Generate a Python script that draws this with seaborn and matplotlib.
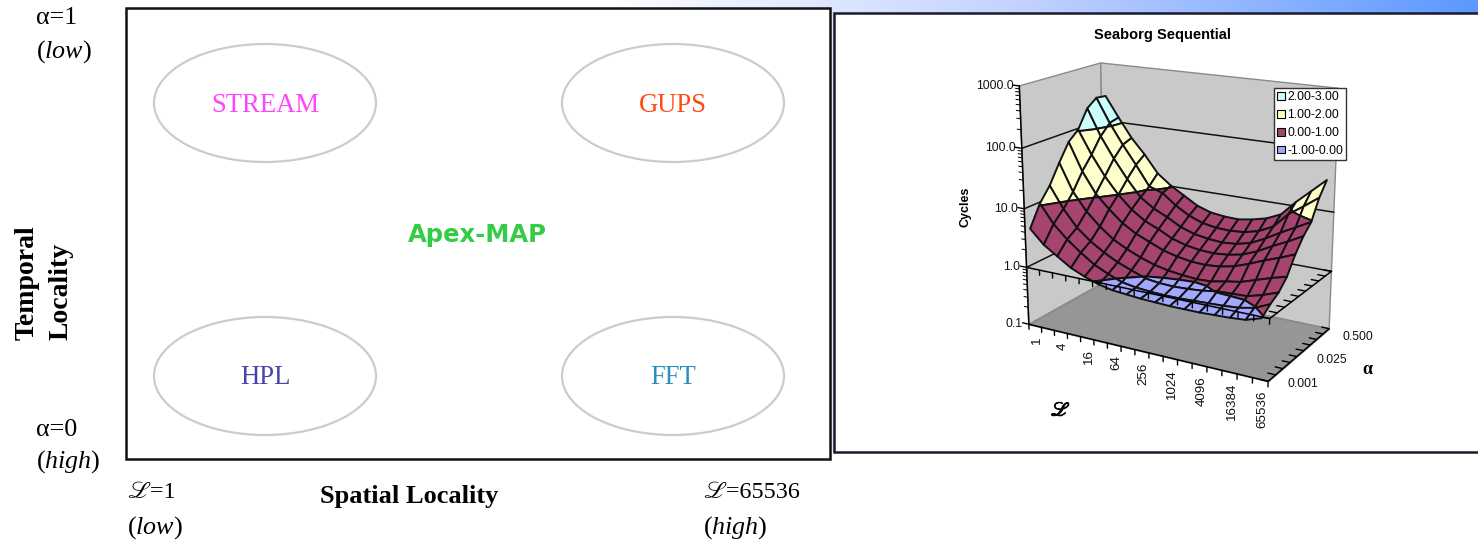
import numpy as np
import matplotlib
matplotlib.use("Agg")
import matplotlib.pyplot as plt
import matplotlib.patheffects as pe
from matplotlib.patches import Ellipse, Patch, Rectangle
from mpl_toolkits.mplot3d import proj3d
from mpl_toolkits.mplot3d.art3d import Poly3DCollection
import seaborn as sns

# spatial locality categories (2^i) and temporal locality categories
L_labels = ["1", "2", "4", "8", "16", "32", "64", "128", "256", "512", "1024",
            "2048", "4096", "8192", "16384", "32768", "65536"]
alpha_labels = ["0.001", "0.0025", "0.005", "0.01", "0.025", "0.05", "0.1", "0.25", "0.500"]

# log10(cycles), one list per alpha
log_cycles_a0 = [.68, .45, .30, .15, .05, -.03, -.08, -.10, -.12, -.13, -.14, -.14, -.14, -.13, -.12, -.10, -.02]
log_cycles_a1 = [1.03, .72, .50, .32, .16, .05, -.04, -.08, -.10, -.11, -.11, -.10, -.09, -.08, -.06, -.01, .10]
log_cycles_a2 = [1.26, .90, .62, .43, .28, .16, .07, -.02, -.05, -.06, -.05, -.03, .01, .02, .03, .10, .19]
log_cycles_a3 = [1.58, 1.12, .82, .60, .42, .30, .20, .12, .07, .04, .02, .03, .08, .12, .20, .28, .35]
log_cycles_a4 = [1.87, 1.40, 1.05, .82, .62, .48, .38, .28, .22, .18, .17, .19, .24, .33, .43, .52, .62]
log_cycles_a5 = [2.02, 1.62, 1.28, 1.00, .78, .62, .52, .40, .33, .29, .28, .30, .35, .45, .58, .70, .83]
log_cycles_a6 = [2.33, 1.88, 1.52, 1.20, .92, .76, .65, .52, .44, .40, .38, .40, .46, .58, .72, .85, .98]
log_cycles_a7 = [2.46, 2.05, 1.70, 1.38, 1.04, .96, .78, .64, .55, .51, .50, .52, .58, .70, .95, 1.12, 1.30]
log_cycles_a8 = [2.44, 2.09, 1.76, 1.50, 1.20, 1.02, .88, .74, .66, .63, .62, .66, .72, .83, 1.08, 1.30, 1.52]

band_labels = ["2.00-3.00", "1.00-2.00", "0.00-1.00", "-1.00-0.00"]
band_edges = [(2, 3), (1, 2), (0, 1), (-1, 0)]
band_colors = ["#CCFFFF", "#FFFFCC", "#A5446F", "#A3A8FF"]

z_ticks = [-1, 0, 1, 2, 3]
z_labels = ["0.1", "1.0", "10.0", "100.0", "1000.0"]


def clip_band(quad, lo, hi):
    # cut one surface cell down to the part inside a colour band
    poly = quad
    for limit, sign in ((lo, 1), (hi, -1)):
        out = []
        for k in range(len(poly)):
            p, q = poly[k], poly[(k + 1) % len(poly)]
            dp, dq = sign * (p[2] - limit), sign * (q[2] - limit)
            if dp >= 0:
                out.append(p)
            if dp * dq < 0:
                out.append(p + (q - p) * dp / (dp - dq))
        poly = out
        if len(poly) < 3:
            return []
    return poly


sns.set_theme(style="white")
plt.rcParams["mathtext.fontset"] = "custom"
plt.rcParams["mathtext.rm"] = "Liberation Serif"
plt.rcParams["mathtext.it"] = "Liberation Serif:italic"

fig = plt.figure(figsize=(14.78, 5.41), dpi=100)

# slide layer, in pixels of the picture
ax = fig.add_axes([0, 0, 1, 1])
strip = sns.blend_palette(["#FFFFFF", "#C0D0FF", "#5C98FF"], as_cmap=True)
ax.imshow(np.linspace(0, 1, 256)[None, :], cmap=strip, extent=(600, 1478, 452, 0), aspect="auto", zorder=0)
ax.set_xlim(0, 1478)
ax.set_ylim(541, 0)
ax.set_axis_off()
ax.add_patch(Rectangle((126, 8), 704, 451, fc="white", ec="#111111", lw=1.8, zorder=1))
ax.add_patch(Rectangle((834, 13), 650, 439, fc="white", ec="#1A1A2A", lw=1.8, zorder=1))

serif = ["Liberation Serif", "STIXGeneral"]
sans = "Liberation Sans"

for x, y, name, color in [(265, 103, "STREAM", "#FF44FF"), (673, 103, "GUPS", "#FF4A10"),
                          (265, 376, "HPL", "#4444AA"), (673, 376, "FFT", "#2A8FBF")]:
    ax.add_patch(Ellipse((x, y), 222, 118, fc="none", ec="#CCCCCC", lw=1.6, zorder=2))
    ax.text(x, y + 2, name, color=color, family=serif, fontsize=19.2, ha="center", va="center", zorder=3)
ax.text(477, 235, "Apex-MAP", color="#33CC44", family="DejaVu Sans", weight="bold", fontsize=17.5,
        ha="center", va="center", zorder=3)

for x, y, s in [(36, 16, "α=1"), (36, 50, "($\\mathit{low}$)"), (36, 428, "α=0"), (36, 460, "($\\mathit{high}$)"),
                (127, 526, "($\\mathit{low}$)"), (703, 526, "($\\mathit{high}$)")]:
    ax.text(x, y + 2, s, family=serif, color="black", fontsize=18.7, ha="left", va="center", zorder=3)
for x, y, s in [(127, 490, "ℒ=1"), (703, 490, "ℒ=65536")]:
    ax.text(x, y + 2, s, family=serif, color="black", fontsize=17.4, ha="left", va="center", zorder=3)
ax.text(27, 283, "Temporal", family=serif, weight="bold", fontsize=20, color="black", rotation=90,
        ha="center", va="center")
ax.text(61, 291, "Locality", family=serif, weight="bold", fontsize=20, color="black", rotation=90,
        ha="center", va="center")
ax.text(409, 497, "Spatial Locality", family=serif, weight="bold", fontsize=19, color="black",
        ha="center", va="center")

ax.text(1162, 35, "Seaborg Sequential", family=sans, weight="bold", fontsize=10.5, color="black",
        ha="center", va="center")
ax.text(966, 207, "Cycles", family=sans, weight="bold", fontsize=9, color="black", rotation=90,
        ha="center", va="center")
ax.text(1060, 411, "ℒ", family=["STIXGeneral", "DejaVu Sans"], fontsize=14, color="black", ha="center", va="center",
        path_effects=[pe.withStroke(linewidth=0.7, foreground="black")])
ax.text(1367, 369, "α", family="Liberation Serif", weight="bold", fontsize=13, color="black", ha="center", va="center")

# the Excel style 3D chart
ax3d = fig.add_axes([952.37 / 1478, 1 - 436.42 / 541, 440 / 1478, 440 / 541], projection="3d")
ax3d.patch.set_visible(False)
ax3d.computed_zorder = False
ax3d.set_axis_off()
ax3d.set_proj_type("persp", focal_length=0.5035)
ax3d.view_init(17.25, -60.18)
ax3d.set_box_aspect((1.1537, 0.605, 1.0528), zoom=0.87892)

n_l = len(L_labels)
n_a = len(alpha_labels)
ax3d.set_xlim(0, n_l)
ax3d.set_ylim(0, n_a)
ax3d.set_zlim(z_ticks[0], z_ticks[-1])

walls = [[(0, 0, -1), (0, n_a, -1), (0, n_a, 3), (0, 0, 3)],
         [(0, n_a, -1), (n_l, n_a, -1), (n_l, n_a, 3), (0, n_a, 3)]]
ax3d.add_collection3d(Poly3DCollection(walls, facecolors="#C9C9C9", edgecolors="#8A8A8A", linewidths=1, zorder=1))
floor = [[(0, 0, -1), (n_l, 0, -1), (n_l, n_a, -1), (0, n_a, -1)]]
ax3d.add_collection3d(Poly3DCollection(floor, facecolors="#969696", edgecolors="#8A8A8A", linewidths=1, zorder=2))

for z in z_ticks[1:-1]:
    ax3d.plot([0, 0, n_l], [0, n_a, n_a], [z, z, z], color="#111111", lw=1.1, zorder=3)

# surface cells, split at the band limits so every band keeps its own colour
log_cycles = np.array([log_cycles_a0, log_cycles_a1, log_cycles_a2, log_cycles_a3, log_cycles_a4,
                       log_cycles_a5, log_cycles_a6, log_cycles_a7, log_cycles_a8])
l_pos = np.linspace(0.4, n_l - 0.5, n_l)
a_pos = np.linspace(0.0, n_a - 0.1, n_a)
verts, faces = [], []
for j in range(n_a - 1):
    for i in range(n_l - 1):
        quad = [np.array([l_pos[a], a_pos[b], log_cycles[b, a]], float)
                for a, b in ((i, j), (i + 1, j), (i + 1, j + 1), (i, j + 1))]
        for (lo, hi), color in zip(band_edges, band_colors):
            piece = clip_band(quad, lo, hi)
            if len(piece) >= 3:
                verts.append(piece)
                faces.append(color)
ax3d.add_collection3d(Poly3DCollection(verts, facecolors=faces, edgecolors="#111111", linewidths=1.4, zorder=5))

# axes: front floor edges, the same edges at 1.0, and the value axis
for z in (-1, 0):
    ax3d.plot([0, n_l, n_l], [0, 0, n_a], [z, z, z], color="black", lw=1.1, zorder=6)
    for i in range(n_l + 1):
        ax3d.plot([i, i], [0, 0], [z, z - 0.09], color="black", lw=1, zorder=6)
    for j in range(n_a + 1):
        ax3d.plot([n_l, n_l - 0.5], [j, j], [z, z], color="black", lw=1, zorder=6)
ax3d.plot([0, 0], [0, 0], [-1, 3], color="black", lw=1.1, zorder=6)
for d in z_ticks:
    ax3d.plot([0, -0.5], [0, 0], [d, d], color="black", lw=1, zorder=6)
    if d < 3:
        for m in range(2, 10):
            ax3d.plot([0, -0.3], [0, 0], [d + np.log10(m)] * 2, color="black", lw=0.7, zorder=6)


def to_pixels(x, y, z):
    tx, ty, _ = proj3d.proj_transform(x, y, z, ax3d.get_proj())
    return ax.transData.inverted().transform(ax3d.transData.transform((tx, ty)))


ax3d.apply_aspect()
for d, s in zip(z_ticks, z_labels):
    x, y = to_pixels(0, 0, d)
    ax.text(x - 6, y, s, family=sans, fontsize=8.8, color="#111111", ha="right", va="center")
for i in range(0, n_l, 2):
    x, y = to_pixels(i + 0.5, 0, -1)
    ax.text(x + 2, y + 11, L_labels[i], family=sans, fontsize=9.6, color="#111111", rotation=90, ha="center", va="top")
for j in range(0, n_a, 4):
    x, y = to_pixels(n_l, j + 0.5, -1)
    ax.text(x + 16, y + 6, alpha_labels[j], family=sans, fontsize=8.8, color="#111111", ha="left", va="center")

# legend sits above the 3D wall, so it gets its own layer
ax_top = fig.add_axes([0, 0, 1, 1], zorder=5)
ax_top.set_xlim(0, 1478)
ax_top.set_ylim(541, 0)
ax_top.set_axis_off()
ax_top.legend(handles=[Patch(fc=c, ec="black", lw=0.8, label=s) for c, s in zip(band_colors, band_labels)],
              loc="upper left", bbox_to_anchor=(1274, 88), bbox_transform=ax_top.transData,
              prop={"family": sans, "size": 8.7}, labelcolor="black", frameon=True, fancybox=False,
              edgecolor="#333333", framealpha=1, handlelength=0.6, handleheight=0.6, handletextpad=0.2,
              borderpad=0.28, labelspacing=0.48, borderaxespad=0)

fig.savefig("out.png", dpi=100)
